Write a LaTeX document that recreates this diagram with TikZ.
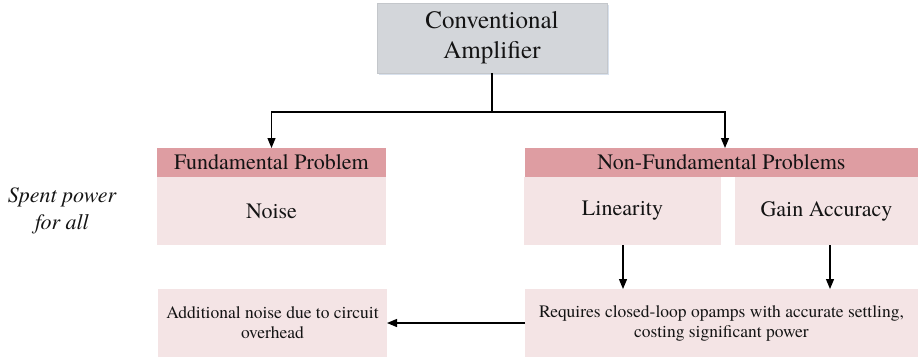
\documentclass[tikz,border=0pt]{standalone}
\usepackage{fontspec}
\setmainfont{TeX Gyre Termes}
\newfontfamily\tnr{TeX Gyre Termes}
\usetikzlibrary{arrows.meta,shadows}
\definecolor{hdrpink}{RGB}{222,157,162}
\definecolor{bodypink}{RGB}{244,228,229}
\definecolor{topgray}{RGB}{211,214,218}
\definecolor{topgrayline}{RGB}{196,199,203}
\definecolor{txt}{RGB}{20,20,20}
\definecolor{shad}{RGB}{190,205,225}
\begin{document}
\begin{tikzpicture}[x=1pt,y=-1pt,
  every node/.style={inner sep=0pt,outer sep=0pt,text=txt,align=center},
  topbox/.style={rectangle,fill=topgray,draw=topgrayline,line width=0.8pt,
    minimum width=230pt,minimum height=70pt,font=\tnr\fontsize{25}{30}\selectfont,
    drop shadow={shadow xshift=1.5pt,shadow yshift=-1.5pt,fill=shad,opacity=0.6}},
  hdrbox/.style={rectangle,fill=hdrpink,minimum height=29pt,font=\tnr\fontsize{22}{26}\selectfont},
  bodybox/.style={rectangle,fill=bodypink,minimum height=68pt,font=\tnr\fontsize{22}{26}\selectfont},
  notebox/.style={rectangle,fill=bodypink,minimum height=68pt,font=\tnr\fontsize{17.5}{20}\selectfont},
  conn/.style={draw=black,line width=1.2pt},
  arr/.style={conn,-{Triangle[length=10pt,width=8pt]}}
]
\useasboundingbox (0,0) rectangle (918,360);

\node[topbox] (top) at (492,38) {Conventional\\Amplifier};

\node[hdrbox,minimum width=229pt] (fp) at (271.5,162.5) {Fundamental Problem};
\node[bodybox,minimum width=229pt] (noise) at (271.5,211) {Noise};

\node[hdrbox,minimum width=393pt] (nf) at (721.5,162.5) {Non-Fundamental Problems};
\node[bodybox,minimum width=197pt] (lin) at (622.5,211) {Linearity};
\node[bodybox,minimum width=183pt] (gain) at (826.5,211) {Gain Accuracy};

\node[notebox,minimum width=229pt] (addn) at (272.5,323) {Additional noise due to circuit\\overhead};
\node[notebox,minimum width=393pt] (req) at (721.5,323) {Requires closed-loop opamps with accurate settling,\\costing significant power};

\node[font=\tnr\fontsize{22}{27}\selectfont\itshape] (spent) at (62,211) {Spent power\\for all};

\coordinate (split) at (492,112);
\draw[conn] (top.south) -- (split);
\draw[arr] (split) -| (fp.north);
\draw[arr] (split) -| ([xshift=3.5pt]nf.north);
\draw[arr] ([xshift=0.5pt]lin.south) -- ([xshift=0.5pt]lin.south |- req.north);
\draw[arr] ([xshift=3.5pt]gain.south) -- ([xshift=3.5pt]gain.south |- req.north);
\draw[arr] (req.west) -- (addn.east);
\end{tikzpicture}
\end{document}
